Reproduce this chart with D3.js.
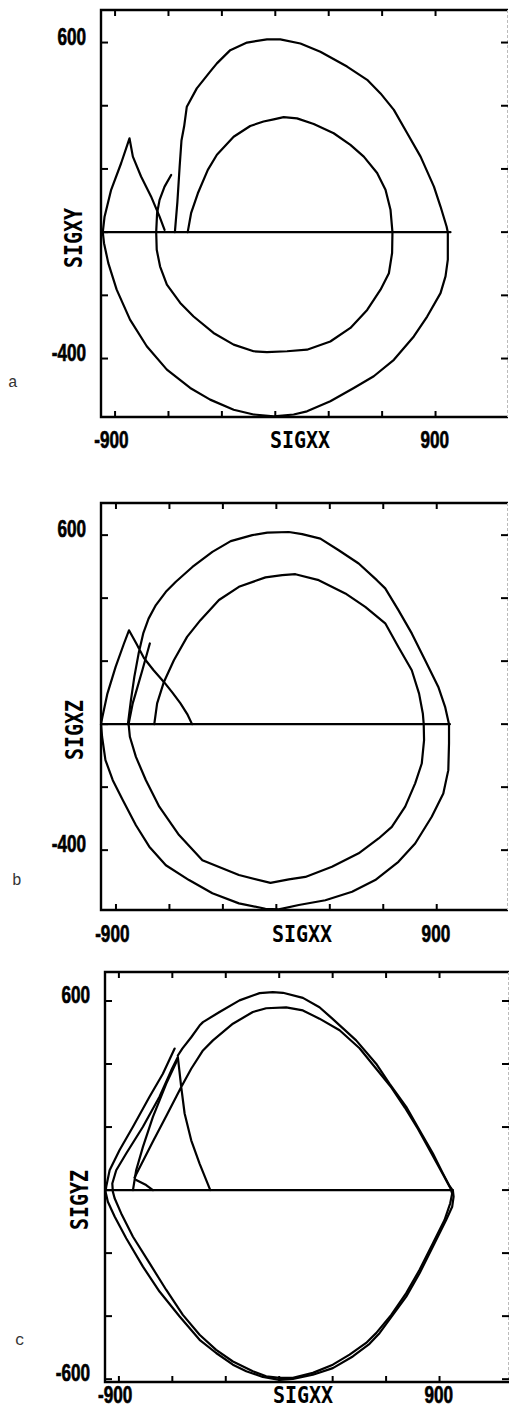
<!DOCTYPE html>
<html>
<head>
<meta charset="utf-8">
<script src="https://cdn.jsdelivr.net/npm/d3@7"></script>
<style>
  html, body { margin: 0; padding: 0; background: #fff; }
  svg { display: block; }
  .tick-label { font-family: "Liberation Sans", Arial, sans-serif; font-weight: bold; font-size: 22px; fill: #000; stroke: #000; stroke-width: 0.6px; }
  .axis-title { font-family: "DejaVu Sans Mono", monospace; font-weight: bold; font-size: 20px; fill: #000; }
  .panel-tag { font-family: "Liberation Mono", "Courier New", monospace; font-size: 16px; fill: #333; }
</style>
</head>
<body>
<svg id="chart" width="509" height="1417"></svg>
<script>
// ---- tick values ----
const xTicks = [-900, -600, -300, 0, 300, 600, 900];
const xTickLabels = [-900, 900];
const yTicksAB = [-400, -200, 0, 200, 400, 600];
const yTickLabelsAB = [600, -400];
const yTicksC = [-600, -400, -200, 0, 200, 400, 600];
const yTickLabelsC = [600, -600];

// ---- panel a : SIGXX vs SIGXY ----
const axisA = [[-966, 0], [984, 0]];
const outerA = [[-564,0],[-550,95],[-537,210],[-527,290],[-512,335],[-497,397],[-441,455],[-366,508],[-328,534],[-253,576],[-159,600],[-47,610],[28,610],[141,597],[253,571],[403,524],[516,482],[591,439],[666,387],[741,313],[816,239],[891,144],[928,81],[962,18],[969,0],[969,-87],[956,-140],[928,-193],[853,-267],[778,-330],[666,-404],[553,-456],[441,-493],[309,-535],[178,-567],[103,-577],[-9,-583],[-122,-577],[-234,-562],[-366,-530],[-478,-493],[-609,-435],[-722,-361],[-816,-277],[-891,-182],[-938,-98],[-962,-35],[-969,0],[-959,49],[-922,134],[-866,218],[-819,297],[-800,239],[-754,176],[-698,113],[-650,49],[-622,7]];
const innerA = [[-492,0],[-473,60],[-435,123],[-379,197],[-328,245],[-234,302],[-141,336],[-66,350],[-9,357],[47,364],[122,360],[216,342],[328,313],[422,276],[497,239],[572,187],[619,134],[647,71],[658,0],[656,-66],[638,-130],[591,-182],[516,-246],[422,-303],[309,-346],[178,-372],[66,-377],[-47,-380],[-122,-377],[-234,-356],[-347,-319],[-459,-267],[-534,-224],[-609,-166],[-647,-109],[-666,-56],[-669,0],[-664,60],[-650,102],[-622,144],[-585,181]];

// ---- panel b : SIGXX vs SIGXZ ----
const axisB = [[-984, 0], [974, 0]];
const outerB = [[-833,0],[-816,76],[-797,150],[-773,224],[-747,288],[-717,335],[-676,378],[-620,420],[-564,452],[-471,499],[-359,547],[-256,581],[-135,600],[-51,608],[70,610],[145,603],[247,589],[350,552],[462,510],[564,457],[611,431],[685,362],[760,288],[835,203],[909,118],[947,55],[969,0],[969,-61],[965,-146],[937,-220],[872,-294],[779,-379],[685,-437],[555,-495],[425,-532],[275,-559],[126,-574],[14,-588],[-61,-586],[-210,-569],[-359,-537],[-490,-495],[-620,-448],[-713,-389],[-788,-321],[-862,-241],[-918,-178],[-959,-114],[-978,-40],[-984,0],[-976,23],[-948,97],[-902,182],[-855,256],[-827,298],[-785,255],[-743,210],[-690,172],[-631,134],[-583,100],[-538,66],[-500,32],[-473,0]];
const innerB = [[-685,0],[-669,66],[-631,134],[-575,203],[-501,277],[-426,330],[-322,394],[-210,436],[-61,466],[33,473],[107,476],[238,457],[387,415],[499,372],[611,320],[685,245],[760,171],[801,97],[822,34],[827,0],[829,-51],[816,-125],[779,-188],[723,-262],[648,-326],[574,-363],[462,-410],[312,-453],[163,-485],[70,-493],[-33,-504],[-210,-479],[-415,-432],[-546,-352],[-657,-262],[-732,-178],[-788,-104],[-822,-40],[-829,0],[-806,66],[-790,97],[-752,171],[-710,256]];

// ---- panel c : SIGXX vs SIGYZ ----
const axisC = [[-975, 0], [975, 0]];
const outerC = [[-569,427],[-544,449],[-494,485],[-447,522],[-428,533],[-335,565],[-223,602],[-110,625],[-36,628],[21,626],[133,610],[226,580],[292,547],[432,475],[544,401],[619,338],[713,264],[788,190],[863,116],[919,53],[956,13],[975,-2],[979,-21],[971,-53],[937,-95],[863,-179],[788,-264],[713,-338],[638,-396],[563,-454],[507,-488],[413,-528],[301,-565],[189,-586],[77,-599],[2,-602],[-92,-593],[-185,-575],[-260,-554],[-354,-517],[-447,-475],[-559,-401],[-672,-322],[-765,-243],[-859,-153],[-924,-84],[-962,-37],[-975,-5],[-971,11],[-952,63],[-896,127],[-821,201],[-728,296],[-653,369],[-587,449]];
const innerC = [[-812,40],[-709,154],[-634,235],[-550,327],[-494,385],[-428,443],[-372,475],[-260,528],[-148,565],[-73,577],[39,580],[133,570],[226,544],[339,507],[451,450],[540,388],[630,325],[705,262],[780,193],[855,116],[922,47],[962,5],[971,-11],[960,-42],[928,-95],[863,-169],[788,-253],[713,-327],[629,-396],[544,-454],[488,-485],[395,-522],[301,-554],[189,-580],[77,-596],[2,-596],[-73,-591],[-148,-575],[-260,-544],[-354,-507],[-447,-459],[-541,-396],[-634,-317],[-728,-232],[-821,-148],[-887,-74],[-924,-26],[-934,-5],[-937,21],[-915,63],[-859,116],[-765,201],[-672,296],[-606,380],[-569,422],[-550,327],[-531,243],[-494,158],[-447,84],[-387,0]];
const riseC = [[-821,0],[-803,63],[-765,137],[-709,232],[-634,338],[-569,417]];
const kinkC = [[-803,32],[-747,16],[-709,0]];

// ---- layout of the three stacked panels ----
const panels = [
  { tag: "a", yTitle: "SIGXY", box: { left: 101, top: 10, right: 508, bottom: 417 },
    xDomain: [-979, 1307], yDomain: [-585, 703], yTicks: yTicksAB, yLabels: yTickLabelsAB,
    paths: [axisA, outerA, innerA],
    tagAt: [8, 387], yTitleAt: [82, 238], xTitleAt: [300, 448], xLabelY: 448 },
  { tag: "b", yTitle: "SIGXZ", box: { left: 101, top: 503, right: 508, bottom: 910 },
    xDomain: [-984, 1300], yDomain: [-590, 702], yTicks: yTicksAB, yLabels: yTickLabelsAB,
    paths: [axisB, outerB, innerB],
    tagAt: [12, 885], yTitleAt: [83, 730], xTitleAt: [302, 942], xLabelY: 942 },
  { tag: "c", yTitle: "SIGYZ", box: { left: 105, top: 972, right: 509, bottom: 1382 },
    xDomain: [-978, 1290], yDomain: [-609, 692], yTicks: yTicksC, yLabels: yTickLabelsC,
    paths: [axisC, outerC, innerC, riseC, kinkC],
    tagAt: [15, 1345], yTitleAt: [88, 1200], xTitleAt: [303, 1403], xLabelY: 1403 }
];

const svg = d3.select("#chart");
const fmt = v => d3.format("d")(v).replace("\u2212", "-");

panels.forEach(p => {
  const b = p.box;
  const x = d3.scaleLinear().domain(p.xDomain).range([b.left, b.right]);
  const y = d3.scaleLinear().domain(p.yDomain).range([b.bottom, b.top]);
  const g = svg.append("g");

  // frame
  g.append("path")
    .attr("d", `M${b.right},${b.top}H${b.left}V${b.bottom}H${b.right}`)
    .attr("fill", "none").attr("stroke", "#000").attr("stroke-width", 2.4);
  g.append("line")
    .attr("x1", b.right - 0.5).attr("x2", b.right - 0.5)
    .attr("y1", b.top).attr("y2", b.bottom)
    .attr("stroke", "#bbb").attr("stroke-width", 1).attr("stroke-dasharray", "3,2");

  // inward ticks on all four sides
  const tick = (x1, y1, x2, y2) => g.append("line")
    .attr("x1", x1).attr("y1", y1).attr("x2", x2).attr("y2", y2)
    .attr("stroke", "#000").attr("stroke-width", 2);
  xTicks.forEach(v => {
    tick(x(v), b.top, x(v), b.top + 6);
    tick(x(v), b.bottom, x(v), b.bottom - 6);
  });
  p.yTicks.forEach(v => {
    tick(b.left, y(v), b.left + 7, y(v));
    tick(b.right - 7, y(v), b.right, y(v));
  });

  // tick labels in a narrow heavy face: digits centred on the tick, minus sign hanging left
  xTickLabels.forEach(v => {
    g.append("text").attr("class", "tick-label")
      .attr("transform", `translate(${x(v) + 13.5},${p.xLabelY}) scale(0.78,1.05)`)
      .attr("text-anchor", "end").text(fmt(v));
  });
  p.yLabels.forEach(v => {
    g.append("text").attr("class", "tick-label")
      .attr("transform", `translate(${b.left - 15},${y(v) + 2}) scale(0.78,1.05)`)
      .attr("text-anchor", "end").text(fmt(v));
  });

  // axis titles
  g.append("text").attr("class", "axis-title")
    .attr("transform", `translate(${p.xTitleAt[0]},${p.xTitleAt[1]}) scale(1,1.15)`)
    .attr("text-anchor", "middle").text("SIGXX");
  g.append("text").attr("class", "axis-title")
    .attr("transform", `translate(${p.yTitleAt[0]},${p.yTitleAt[1]}) rotate(-90) scale(1,1.2)`)
    .attr("text-anchor", "middle").text(p.yTitle);

  // panel letter
  g.append("text").attr("class", "panel-tag")
    .attr("x", p.tagAt[0]).attr("y", p.tagAt[1]).text(p.tag);

  // stress paths
  const line = d3.line().x(d => x(d[0])).y(d => y(d[1]));
  g.selectAll("path.trace").data(p.paths).join("path")
    .attr("class", "trace")
    .attr("d", line)
    .attr("fill", "none").attr("stroke", "#000")
    .attr("stroke-width", 2.2).attr("stroke-linejoin", "round").attr("stroke-linecap", "round");
});
</script>
</body>
</html>
